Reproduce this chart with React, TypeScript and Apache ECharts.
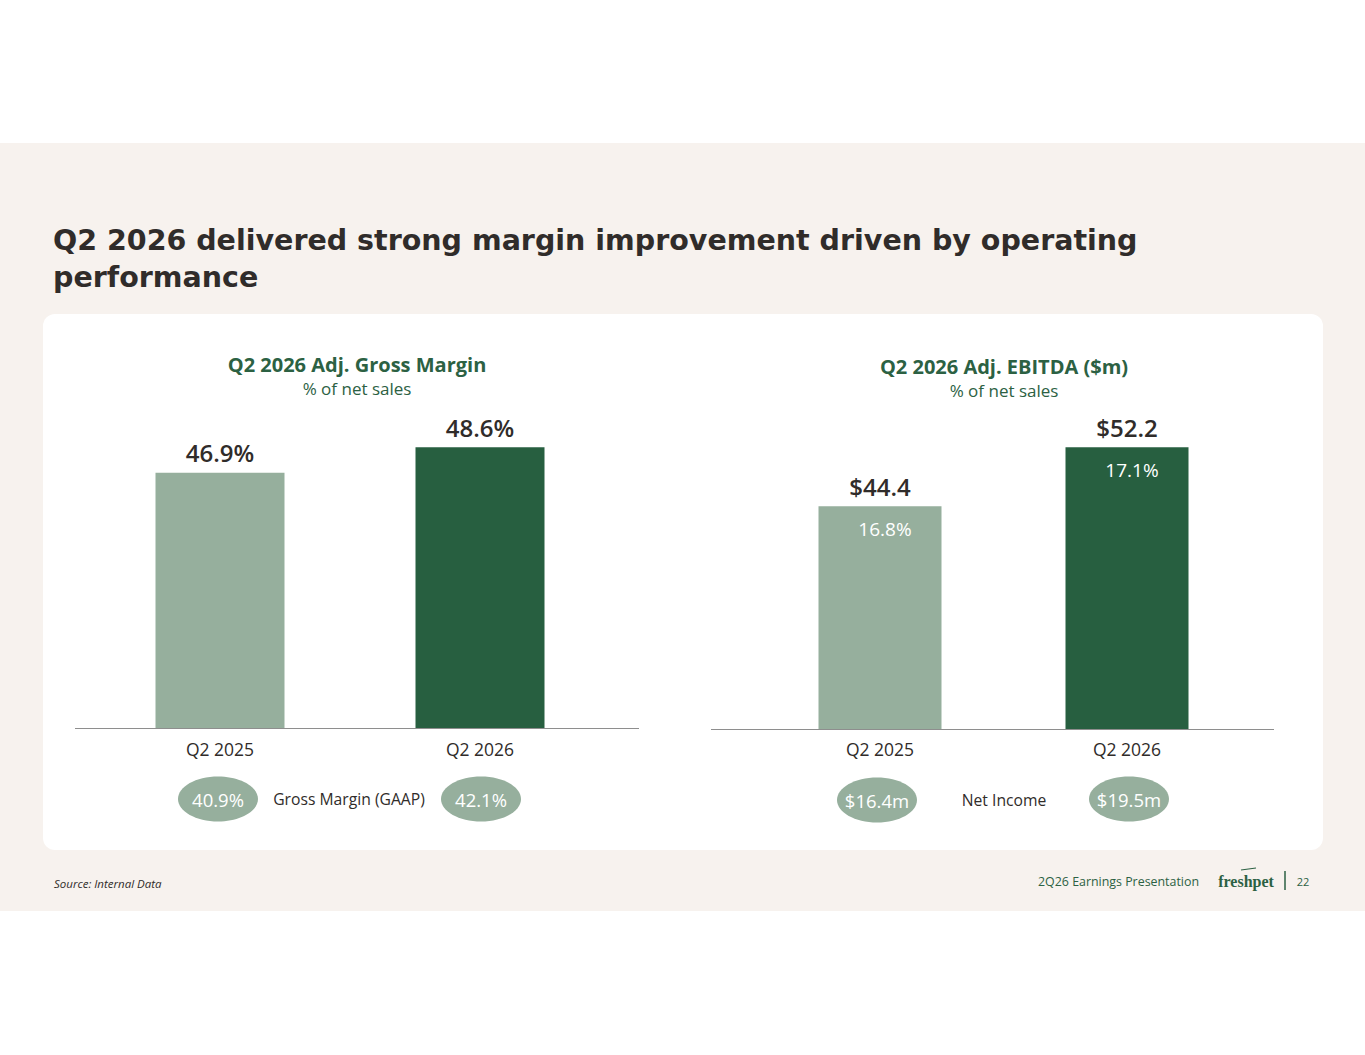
import React, { useEffect, useRef } from "react";
import * as echarts from "echarts";

const categories = ["Q2 2025", "Q2 2026"];
const grossMargin = [46.9, 48.6];
const gaapMargin = ["40.9%", "42.1%"];
const ebitda = [44.4, 52.2];
const ebitdaPct = ["16.8%", "17.1%"];
const netIncome = ["$16.4m", "$19.5m"];

const LIGHT = "#96AF9D";
const DARK = "#275F40";
const GREEN_TEXT = "#2C6143";
const TXT = "#302C2A";
const FONT = "'Open Sans', 'DejaVu Sans', sans-serif";

export default function App() {
  const ref = useRef<HTMLDivElement>(null);
  useEffect(() => {
    document.body.style.margin = "0";
    const chart = echarts.init(ref.current!, undefined, { renderer: "svg" });
    const barColor = (p: any) => (p.dataIndex === 0 ? LIGHT : DARK);
    const option: any = {
      animation: false,
      textStyle: { fontFamily: FONT },
      grid: [
        { left: 90, width: 520, top: 426, height: 302 },
        { left: 756.5, width: 494, top: 426, height: 303 },
      ],
      xAxis: [
        { type: "category", gridIndex: 0, data: categories, axisLine: { show: false }, axisTick: { show: false },
          axisLabel: { color: TXT, fontSize: 17.5, margin: 12, fontFamily: FONT } },
        { type: "category", gridIndex: 1, data: categories, axisLine: { show: false }, axisTick: { show: false },
          axisLabel: { color: TXT, fontSize: 17.5, margin: 11, fontFamily: FONT } },
      ],
      yAxis: [
        { type: "value", gridIndex: 0, min: 30, max: 50, show: false },
        { type: "value", gridIndex: 1, min: 15, max: 55, show: false },
      ],
      series: [
        {
          type: "bar", xAxisIndex: 0, yAxisIndex: 0, data: grossMargin, barWidth: 129,
          itemStyle: { color: barColor },
          label: { show: true, position: "top", distance: 8, color: TXT, fontSize: 24, fontWeight: 600, fontFamily: FONT,
            formatter: (p: any) => p.value.toFixed(1) + "%" },
        },
        {
          type: "bar", xAxisIndex: 1, yAxisIndex: 1, data: ebitda, barWidth: 123,
          itemStyle: { color: barColor },
          label: { show: true, position: "top", distance: 8, color: TXT, fontSize: 24, fontWeight: 600, fontFamily: FONT,
            formatter: (p: any) => "$" + p.value.toFixed(1) },
        },
        {
          type: "bar", xAxisIndex: 1, yAxisIndex: 1, data: ebitda, barWidth: 123, barGap: "-100%",
          itemStyle: { color: "rgba(0,0,0,0)" }, silent: true,
          label: { show: true, position: "insideTop", distance: 12, offset: [5, 1], color: "#FFFFFF", fontSize: 19, fontFamily: FONT,
            formatter: (p: any) => ebitdaPct[p.dataIndex] },
        },
      ],
    };
    chart.setOption(option);

    const xs0 = categories.map((c) => chart.convertToPixel({ xAxisIndex: 0 }, c) as number);
    const xs1 = categories.map((c) => chart.convertToPixel({ xAxisIndex: 1 }, c) as number);

    const pill = (cx: number, cy: number, label: string) => ({
      type: "group",
      children: [
        { type: "ellipse", shape: { cx, cy, rx: 40, ry: 22.5 }, style: { fill: LIGHT } },
        { type: "text", x: cx, y: cy, style: { text: label, fill: "#FFFFFF", fontSize: 18.5, fontFamily: FONT, align: "center", verticalAlign: "middle" } },
      ],
    });

    chart.setOption({
      graphic: [
        { type: "rect", z: -10, shape: { x: 0, y: 143, width: 1365, height: 768 }, style: { fill: "#F7F2EE" }, silent: true },
        { type: "rect", z: -9, shape: { x: 43, y: 314, width: 1280, height: 536, r: 12 }, style: { fill: "#FFFFFF" }, silent: true },
        { type: "text", x: 53, y: 240, style: { text: "Q2 2026 delivered strong margin improvement driven by operating", fill: TXT, fontSize: 28.5, fontWeight: 700, fontFamily: "'DejaVu Sans', sans-serif", verticalAlign: "middle" } },
        { type: "text", x: 53, y: 277, style: { text: "performance", fill: TXT, fontSize: 28.5, fontWeight: 700, fontFamily: "'DejaVu Sans', sans-serif", verticalAlign: "middle" } },
        { type: "text", x: 357, y: 364, style: { text: "Q2 2026 Adj. Gross Margin", fill: GREEN_TEXT, fontSize: 20, fontWeight: 700, fontFamily: FONT, align: "center", verticalAlign: "middle" } },
        { type: "text", x: 357, y: 388, style: { text: "% of net sales", fill: GREEN_TEXT, fontSize: 17, fontFamily: FONT, align: "center", verticalAlign: "middle" } },
        { type: "text", x: 1004, y: 366, style: { text: "Q2 2026 Adj. EBITDA ($m)", fill: GREEN_TEXT, fontSize: 20, fontWeight: 700, fontFamily: FONT, align: "center", verticalAlign: "middle" } },
        { type: "text", x: 1004, y: 390, style: { text: "% of net sales", fill: GREEN_TEXT, fontSize: 17, fontFamily: FONT, align: "center", verticalAlign: "middle" } },
        { type: "line", shape: { x1: 75, y1: 728.5, x2: 639, y2: 728.5 }, style: { stroke: "#8E8E8E", lineWidth: 1 } },
        { type: "line", shape: { x1: 711, y1: 729.5, x2: 1274, y2: 729.5 }, style: { stroke: "#8E8E8E", lineWidth: 1 } },
        pill(xs0[0] - 2, 799, gaapMargin[0]),
        pill(xs0[1] + 1, 799, gaapMargin[1]),
        { type: "text", x: 349, y: 799, style: { text: "Gross Margin (GAAP)", fill: TXT, fontSize: 15.7, fontFamily: FONT, align: "center", verticalAlign: "middle" } },
        pill(xs1[0] - 3, 800, netIncome[0]),
        pill(xs1[1] + 2, 799, netIncome[1]),
        { type: "text", x: 1004, y: 800, style: { text: "Net Income", fill: TXT, fontSize: 15.7, fontFamily: FONT, align: "center", verticalAlign: "middle" } },
        { type: "text", x: 54, y: 883, style: { text: "Source: Internal Data", fill: TXT, fontSize: 11.5, fontStyle: "italic", fontFamily: FONT, verticalAlign: "middle" } },
        { type: "text", x: 1199, y: 881, style: { text: "2Q26 Earnings Presentation", fill: GREEN_TEXT, fontSize: 12.4, fontFamily: FONT, align: "right", verticalAlign: "middle" } },
        { type: "text", x: 1246, y: 881, style: { text: "freshpet", fill: GREEN_TEXT, fontSize: 16, fontWeight: 700, fontFamily: "'Liberation Serif', serif", align: "center", verticalAlign: "middle" } },
        { type: "line", shape: { x1: 1241, y1: 870, x2: 1256, y2: 868 }, style: { stroke: GREEN_TEXT, lineWidth: 1.2 } },
        { type: "line", shape: { x1: 1285, y1: 871, x2: 1285, y2: 890 }, style: { stroke: GREEN_TEXT, lineWidth: 1.5 } },
        { type: "text", x: 1303, y: 881, style: { text: "22", fill: GREEN_TEXT, fontSize: 11, fontFamily: FONT, align: "center", verticalAlign: "middle" } },
      ],
    });
    return () => chart.dispose();
  }, []);
  return <div ref={ref} style={{ position: "absolute", left: 0, top: 0, width: 1365, height: 1055, background: "#FFFFFF" }} />;
}
